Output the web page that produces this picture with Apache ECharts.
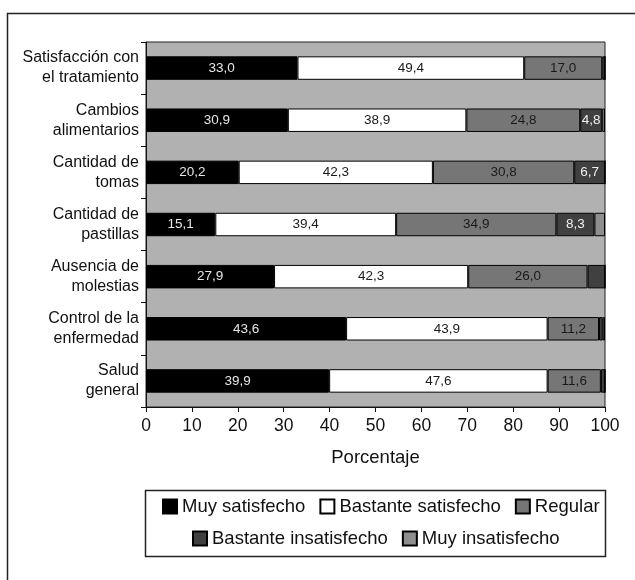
<!DOCTYPE html>
<html>
<head>
<meta charset="utf-8">
<script src="https://cdn.jsdelivr.net/npm/echarts@6/dist/echarts.min.js"></script>
<style>html,body{margin:0;padding:0;background:#fff}#c{width:635px;height:580px}</style>
</head>
<body>
<div id="c"></div>
<script>
var categories = [
  'Satisfacción con\nel tratamiento',
  'Cambios\nalimentarios',
  'Cantidad de\ntomas',
  'Cantidad de\npastillas',
  'Ausencia de\nmolestias',
  'Control de la\nenfermedad',
  'Salud\ngeneral'
];
var seriesNames = ['Muy satisfecho', 'Bastante satisfecho', 'Regular', 'Bastante insatisfecho', 'Muy insatisfecho'];
var muySatisfecho      = [33.0, 30.9, 20.2, 15.1, 27.9, 43.6, 39.9];
var bastanteSatisfecho = [49.4, 38.9, 42.3, 39.4, 42.3, 43.9, 47.6];
var regular            = [17.0, 24.8, 30.8, 34.9, 26.0, 11.2, 11.6];
var bastanteInsat      = [0.6, 4.8, 6.7, 8.3, 3.8, 0.8, 0.9];
var muyInsat           = [0.0, 0.6, 0.0, 2.3, 0.0, 0.5, 0.0];
var xTicks = [0, 10, 20, 30, 40, 50, 60, 70, 80, 90, 100];

var values = [muySatisfecho, bastanteSatisfecho, regular, bastanteInsat, muyInsat];
var colors = ['#000000', '#ffffff', '#767676', '#404040', '#8e8e8e'];
var labelColors = ['#e6e6e6', '#1a1a1a', '#1a1a1a', '#eeeeee', '#1a1a1a'];
var FONT = '"Liberation Sans", Arial, Helvetica, sans-serif';

var chart = echarts.init(document.getElementById('c'), null, {renderer: 'canvas'});
var series = seriesNames.map(function (name, i) {
  return {
    name: name,
    type: 'bar',
    stack: 'total',
    barWidth: '45%',
    data: values[i],
    itemStyle: {color: colors[i], borderColor: '#000', borderWidth: 1},
    label: {
      show: true,
      position: 'inside',
      color: labelColors[i],
      fontFamily: FONT,
      fontSize: 13.5,
      formatter: function (p) {
        return p.value >= 4.5 ? p.value.toFixed(1).replace('.', ',') : '';
      }
    },
    emphasis: {disabled: true},
    animation: false
  };
});

chart.setOption({
  animation: false,
  textStyle: {fontFamily: FONT},
  grid: {
    left: 146, right: 30, top: 42, bottom: 173,
    show: true, backgroundColor: '#b1b1b1', borderColor: '#222', borderWidth: 1
  },
  xAxis: {
    type: 'value', min: xTicks[0], max: xTicks[xTicks.length - 1], interval: 10,
    name: 'Porcentaje', nameLocation: 'middle', nameGap: 41,
    nameTextStyle: {fontSize: 18.5, color: '#111', fontFamily: FONT},
    axisLine: {show: true, lineStyle: {color: '#111', width: 1}},
    axisTick: {show: true, length: 5, lineStyle: {color: '#111'}},
    axisLabel: {fontSize: 17.5, color: '#111', margin: 10, fontFamily: FONT},
    splitLine: {show: false}
  },
  yAxis: {
    type: 'category', data: categories, inverse: true,
    axisLine: {show: true, lineStyle: {color: '#111', width: 1}},
    axisTick: {show: true, length: 5, lineStyle: {color: '#111'}},
    axisLabel: {fontSize: 16, color: '#111', lineHeight: 20, margin: 7, align: 'right', fontFamily: FONT}
  },
  legend: [
    {
      data: seriesNames.slice(0, 3), left: 157, top: 492,
      itemWidth: 14, itemHeight: 14, itemGap: 14, icon: 'rect',
      textStyle: {fontSize: 18.5, color: '#111', fontFamily: FONT}
    },
    {
      data: seriesNames.slice(3), left: 187, top: 524,
      itemWidth: 14, itemHeight: 14, itemGap: 14, icon: 'rect',
      textStyle: {fontSize: 18.5, color: '#111', fontFamily: FONT}
    }
  ],
  graphic: [
    {type: 'rect', shape: {x: 145.5, y: 490.5, width: 460, height: 66}, style: {fill: null, stroke: '#222', lineWidth: 1.5}, silent: true, z: -1},
    {type: 'polyline', shape: {points: [[7.5, 580], [7.5, 13.5], [635, 13.5]]}, style: {fill: null, stroke: '#222', lineWidth: 1.5}, silent: true}
  ],
  series: series
});
</script>
</body>
</html>
